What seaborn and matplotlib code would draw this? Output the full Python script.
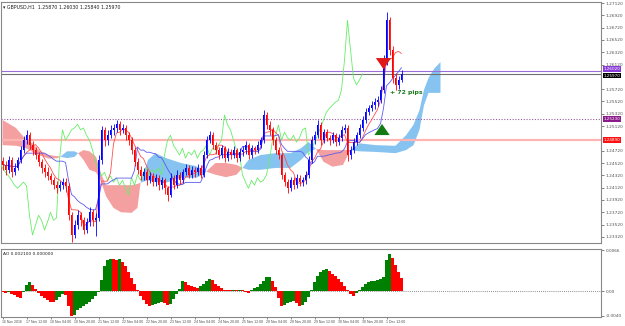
import numpy as np
import pandas as pd
import matplotlib
matplotlib.use("Agg")
import matplotlib.pyplot as plt
import seaborn as sns
from matplotlib.transforms import blended_transform_factory

# ---------------- data ----------------
first_open = 1.2455
closes = [
    1.2449, 1.2441, 1.2457, 1.2437, 1.2444, 1.2457, 1.2473, 1.2489, 1.2497, 1.2481,
    1.2473, 1.2465, 1.2454, 1.2444, 1.2437, 1.2431, 1.2424, 1.2416, 1.2411, 1.2416,
    1.2421, 1.2415, 1.2367, 1.2335, 1.2351, 1.2367, 1.2359, 1.2343, 1.2356, 1.2372,
    1.2359, 1.2363, 1.2457, 1.2506, 1.2489, 1.2497, 1.2506, 1.2509, 1.2515, 1.2506,
    1.2509, 1.2497, 1.2489, 1.2473, 1.2454, 1.2441, 1.2431, 1.2437, 1.2424, 1.2431,
    1.2421, 1.2428, 1.2416, 1.2424, 1.2411, 1.2400, 1.2428, 1.2416, 1.2433, 1.2424,
    1.2437, 1.2444, 1.2433, 1.2441, 1.2437, 1.2444, 1.2433, 1.2465, 1.2489, 1.2497,
    1.2481, 1.2473, 1.2465, 1.2476, 1.2460, 1.2470, 1.2465, 1.2473, 1.2460, 1.2470,
    1.2473, 1.2481, 1.2465, 1.2476, 1.2473, 1.2481, 1.2489, 1.2530, 1.2514, 1.2506,
    1.2489, 1.2473, 1.2465, 1.2433, 1.2421, 1.2411, 1.2424, 1.2416, 1.2428, 1.2421,
    1.2424, 1.2433, 1.2457, 1.2489, 1.2497, 1.2514, 1.2489, 1.2502, 1.2493, 1.2489,
    1.2497, 1.2486, 1.2493, 1.2506, 1.2509, 1.2465, 1.2473, 1.2486, 1.2497, 1.2509,
    1.2522, 1.2535, 1.2541, 1.2546, 1.2551, 1.2554, 1.2571, 1.2619, 1.2684, 1.2636,
    1.2590, 1.2579, 1.2587, 1.2597]
highs = [
    1.2462, 1.2455, 1.2463, 1.2462, 1.2452, 1.2462, 1.2480, 1.2496, 1.2506, 1.2502,
    1.2488, 1.2478, 1.2470, 1.2458, 1.2450, 1.2445, 1.2436, 1.2430, 1.2422, 1.2423,
    1.2428, 1.2427, 1.2420, 1.2372, 1.2360, 1.2375, 1.2372, 1.2365, 1.2362, 1.2380,
    1.2378, 1.2370, 1.2465, 1.2512, 1.2510, 1.2505, 1.2514, 1.2516, 1.2522, 1.2520,
    1.2515, 1.2513, 1.2502, 1.2494, 1.2478, 1.2460, 1.2447, 1.2444, 1.2442, 1.2438,
    1.2436, 1.2434, 1.2432, 1.2430, 1.2428, 1.2415, 1.2435, 1.2433, 1.2440, 1.2438,
    1.2443, 1.2450, 1.2448, 1.2447, 1.2446, 1.2450, 1.2449, 1.2472, 1.2496, 1.2504,
    1.2502, 1.2486, 1.2478, 1.2482, 1.2480, 1.2476, 1.2475, 1.2479, 1.2477, 1.2476,
    1.2479, 1.2487, 1.2485, 1.2482, 1.2480, 1.2487, 1.2495, 1.2538, 1.2535, 1.2520,
    1.2511, 1.2494, 1.2478, 1.2469, 1.2438, 1.2426, 1.2430, 1.2429, 1.2434, 1.2432,
    1.2430, 1.2439, 1.2463, 1.2496, 1.2504, 1.2522, 1.2518, 1.2508, 1.2507, 1.2498,
    1.2503, 1.2501, 1.2499, 1.2512, 1.2516, 1.2513, 1.2480, 1.2492, 1.2503, 1.2515,
    1.2528, 1.2541, 1.2547, 1.2552, 1.2557, 1.2561, 1.2577, 1.2627, 1.2697, 1.2690,
    1.2642, 1.2598, 1.2594, 1.2603]
lows = [
    1.2440, 1.2433, 1.2436, 1.2430, 1.2432, 1.2440, 1.2452, 1.2468, 1.2483, 1.2475,
    1.2465, 1.2458, 1.2447, 1.2436, 1.2430, 1.2424, 1.2418, 1.2410, 1.2404, 1.2406,
    1.2410, 1.2405, 1.2360, 1.2324, 1.2330, 1.2345, 1.2350, 1.2336, 1.2338, 1.2350,
    1.2350, 1.2333, 1.2358, 1.2450, 1.2480, 1.2482, 1.2492, 1.2498, 1.2503, 1.2498,
    1.2500, 1.2490, 1.2482, 1.2466, 1.2447, 1.2434, 1.2424, 1.2425, 1.2417, 1.2419,
    1.2414, 1.2415, 1.2408, 1.2410, 1.2402, 1.2391, 1.2396, 1.2409, 1.2412, 1.2418,
    1.2420, 1.2432, 1.2427, 1.2428, 1.2430, 1.2432, 1.2427, 1.2429, 1.2460, 1.2484,
    1.2475, 1.2467, 1.2458, 1.2460, 1.2454, 1.2455, 1.2459, 1.2460, 1.2454, 1.2455,
    1.2464, 1.2467, 1.2459, 1.2460, 1.2466, 1.2468, 1.2476, 1.2485, 1.2507, 1.2498,
    1.2482, 1.2466, 1.2458, 1.2426, 1.2414, 1.2404, 1.2406, 1.2409, 1.2411, 1.2414,
    1.2415, 1.2418, 1.2428, 1.2452, 1.2483, 1.2492, 1.2482, 1.2484, 1.2487, 1.2482,
    1.2484, 1.2480, 1.2481, 1.2488, 1.2500, 1.2455, 1.2458, 1.2468, 1.2481, 1.2492,
    1.2504, 1.2517, 1.2530, 1.2536, 1.2540, 1.2544, 1.2549, 1.2566, 1.2612, 1.2628,
    1.2582, 1.2570, 1.2572, 1.2584]
osc = [
    -0.0002, -0.0003, -0.0002, -0.0004, -0.0007, -0.0010, -0.0011, -0.0001, 0.0010, 0.0015,
    0.0010, 0.0003, -0.0003, -0.0008, -0.0012, -0.0015, -0.0017, -0.0018, -0.0014, -0.0009,
    -0.0004, -0.0006, -0.0025, -0.0040, -0.0038, -0.0030, -0.0027, -0.0024, -0.0021, -0.0017,
    -0.0013, -0.0008, -0.0002, 0.0018, 0.0040, 0.0050, 0.0052, 0.0052, 0.0051, 0.0052,
    0.0047, 0.0040, 0.0031, 0.0021, 0.0011, 0.0001, -0.0008, -0.0015, -0.0021, -0.0025,
    -0.0023, -0.0021, -0.0019, -0.0018, -0.0020, -0.0023, -0.0021, -0.0013, -0.0004, 0.0004,
    0.0016, 0.0014, 0.0010, 0.0008, 0.0007, 0.0005, 0.0008, 0.0012, 0.0016, 0.0019,
    0.0018, 0.0012, 0.0008, 0.0005, 0.0002, 0.0001, 0.0001, 0.0002, 0.0001, 0.0002,
    0.0001, -0.0001, -0.0003, 0.0002, 0.0005, 0.0007, 0.0011, 0.0016, 0.0022, 0.0023,
    0.0016, 0.0006, -0.0012, -0.0024, -0.0022, -0.0020, -0.0018, -0.0016, -0.0020, -0.0024,
    -0.0023, -0.0017, -0.0010, 0.0001, 0.0014, 0.0024, 0.0030, 0.0034, 0.0036, 0.0032,
    0.0028, 0.0024, 0.0019, 0.0014, 0.0008, 0.0002, -0.0004, -0.0008, -0.0003, 0.0002,
    0.0006, 0.0011, 0.0014, 0.0016, 0.0017, 0.0018, 0.0020, 0.0022, 0.0050, 0.0060,
    0.0054, 0.0042, 0.0030, 0.0021]

cloud_bar = [0, 4.5, 8, 10, 12, 15.5, 18.5, 19.5, 21.5, 24, 25.2, 27, 29, 31.2, 33,
             34.5, 37, 39.5, 43, 45, 46, 48.5, 51, 54.5, 59.5, 64.5, 67, 68.5, 71, 74.5,
             78, 80, 82, 86, 91, 96, 99.5, 102, 104.5, 107, 110, 113.5, 116, 119, 124.5,
             131, 134.5, 137, 139, 140.5, 142, 144, 146]
span_a = [1.2481, 1.2480, 1.2476, 1.2470, 1.2465, 1.2459, 1.2460, 1.2463, 1.2471, 1.2471,
          1.2468, 1.2457, 1.2441, 1.2437, 1.2420, 1.2398, 1.2379, 1.2372, 1.2371, 1.2379,
          1.2420, 1.2457, 1.2468, 1.2460, 1.2452, 1.2447, 1.2441, 1.2437, 1.2433, 1.2429,
          1.2433, 1.2444, 1.2457, 1.2465, 1.2468, 1.2468, 1.2476, 1.2486, 1.2475, 1.2454,
          1.2446, 1.2449, 1.2473, 1.2484, 1.2481, 1.2480, 1.2497, 1.2514, 1.2538, 1.2571,
          1.2590, 1.2606, 1.2616]
span_b = [1.2522, 1.2509, 1.2489, 1.2484, 1.2473, 1.2465, 1.2463, 1.2462, 1.2460, 1.2462,
          1.2468, 1.2473, 1.2471, 1.2462, 1.2433, 1.2416, 1.2416, 1.2416, 1.2416, 1.2418,
          1.2420, 1.2424, 1.2421, 1.2420, 1.2428, 1.2428, 1.2433, 1.2441, 1.2452, 1.2452,
          1.2449, 1.2444, 1.2441, 1.2441, 1.2444, 1.2444, 1.2457, 1.2470, 1.2475, 1.2473,
          1.2473, 1.2473, 1.2473, 1.2471, 1.2470, 1.2468, 1.2473, 1.2481, 1.2506, 1.2546,
          1.2566, 1.2566, 1.2566]

price_ticks = [1.27120, 1.26920, 1.26720, 1.26520, 1.26320, 1.26120, 1.25720,
               1.25520, 1.25320, 1.25120, 1.24720, 1.24520, 1.24320, 1.24120,
               1.23920, 1.23720, 1.23520, 1.23320]
time_tick_bars = [0, 8, 16, 24, 32, 40, 48, 56, 64, 72, 80, 88, 96, 104, 112, 120, 128]
time_labels = ["16 Nov 2016", "17 Nov 12:00", "18 Nov 04:00", "18 Nov 20:00", "21 Nov 12:00",
               "22 Nov 04:00", "22 Nov 20:00", "23 Nov 12:00", "24 Nov 04:00", "24 Nov 20:00",
               "25 Nov 12:00", "28 Nov 04:00", "28 Nov 20:00", "29 Nov 12:00", "30 Nov 04:00",
               "30 Nov 20:00", "1 Dec 12:00"]
level_prices = [1.2602, 1.2597, 1.2523, 1.2489]
level_labels = ["1.26020", "1.25970", "1.25230", "1.24890"]
osc_ticks = [0.0066, 0.0, -0.0040]
osc_tick_labels = ["0.0066", "0.00", "-0.0040"]

# ---------------- style ----------------
sns.set_style("white")
plt.rcParams['font.family'] = ['DejaVu Sans']

W, H = 625, 326
fig = plt.figure(figsize=(W / 100, H / 100), dpi=100)
ax = fig.add_axes([1 / W, (H - 243) / H, 600 / W, 241 / H])
axo = fig.add_axes([1 / W, (H - 317) / H, 600 / W, 68 / H])

df = pd.DataFrame({"close": closes, "high": highs, "low": lows})
df["open"] = df["close"].shift(1).fillna(first_open)
df["bar"] = np.arange(len(df))
tenkan = (df["high"].rolling(5, min_periods=1).max() + df["low"].rolling(5, min_periods=1).min()) / 2
kijun = (df["high"].rolling(13, min_periods=1).max() + df["low"].rolling(13, min_periods=1).min()) / 2

# cloud
cb = np.array(cloud_bar); sa = np.array(span_a); sb = np.array(span_b)
ax.fill_between(cb, sa, sb, where=sa >= sb, interpolate=True, color="#86C3F0", lw=0, zorder=1)
ax.fill_between(cb, sa, sb, where=sa <= sb, interpolate=True, color="#F5A0A0", lw=0, zorder=1)

# horizontal levels
ax.axhline(level_prices[0], color="#9A6CD8", lw=0.8, zorder=2)
ax.axhline(level_prices[1], color="#707070", lw=0.8, zorder=2)
ax.axhline(level_prices[2], color="#9A5AA0", lw=0.8, ls=(0, (1, 1.5)), zorder=2)
ax.axhline(level_prices[3], color="#FFB4B4", lw=1.6, zorder=2)

# ichimoku lines
sns.lineplot(x=df["bar"] - 13, y=df["close"], ax=ax, color="#66EE66", lw=0.6, zorder=3)
sns.lineplot(x=df["bar"], y=tenkan, ax=ax, color="#FF5050", lw=0.6, zorder=3)
sns.lineplot(x=df["bar"], y=kijun, ax=ax, color="#5A5AF0", lw=0.6, zorder=3)

# candles
o = df["open"].values; c = df["close"].values
up = c >= o
cols = np.where(up, "#0000FF", "#FF0000")
ax.vlines(df["bar"], df["low"], df["high"], colors=cols, lw=0.6, zorder=4)
body = np.maximum(np.abs(c - o), 0.00008)
ax.bar(df["bar"], body, bottom=np.minimum(o, c), width=0.62, color=cols, lw=0, zorder=5)

# annotations
ax.annotate("", xy=(127, 1.2600), xytext=(127, 1.2624),
            arrowprops=dict(arrowstyle="simple,head_width=1.1,head_length=0.8,tail_width=0.4",
                            color="#E01818", lw=0), zorder=6)
ax.annotate("", xy=(126.5, 1.2520), xytext=(126.5, 1.2497),
            arrowprops=dict(arrowstyle="simple,head_width=1.1,head_length=0.8,tail_width=0.4",
                            color="#127A12", lw=0), zorder=6)
ax.text(129, 1.2566, "+ 72 pips", color="#1C7A1C", fontsize=4.4, fontweight="bold",
        va="center", ha="left", zorder=6)

ax.set_xlim(-0.5, 199.5)
ax.set_ylim(1.23220, 1.27137)
ax.set_yticks(price_ticks)
ax.set_yticklabels([f"{v:.5f}" for v in price_ticks])
ax.yaxis.tick_right()
ax.tick_params(axis="y", labelsize=3.1, length=2, width=0.5, pad=1.5, colors="#505050", right=True)
ax.set_xticks([])
ax.set_xlabel(""); ax.set_ylabel("")
for s in ax.spines.values():
    s.set_color("#888888"); s.set_linewidth(0.8)

trans = blended_transform_factory(ax.transAxes, ax.transData)
box_cols = ["#8A3CD8", "#000000", "#8B1A8B", "#FF1010"]
box_offsets = [0.0003, -0.0003, 0.0, 0.0]
for p, lab, bc, off in zip(level_prices, level_labels, box_cols, box_offsets):
    ax.text(1.004, p + off, lab, transform=trans, fontsize=3.0, color="white", va="center", ha="left",
            bbox=dict(boxstyle="square,pad=0.2", fc=bc, ec="none"), zorder=10, clip_on=False)

ax.text(0.004, 0.99, "\u25BE GBPUSD,H1  1.25870 1.26030 1.25840 1.25970", transform=ax.transAxes,
        fontsize=3.4, va="top", ha="left", color="#202020")

# oscillator
ov = np.array(osc)
prev = np.r_[ov[0], ov[:-1]]
ocols = np.where(ov > prev, "#008000", "#FF0000")
axo.bar(np.arange(len(ov)), ov, width=1.0, color=ocols, lw=0, zorder=2)
axo.axhline(0, color="#666666", lw=0.6, ls=(0, (1, 1.5)), zorder=1)
axo.set_xlim(-0.5, 199.5)
axo.set_ylim(-0.0042, 0.0068)
axo.set_yticks(osc_ticks)
axo.set_yticklabels(osc_tick_labels)
axo.yaxis.tick_right()
axo.tick_params(axis="y", labelsize=3.1, length=2, width=0.5, pad=1.5, colors="#505050", right=True)
axo.set_xticks(time_tick_bars)
axo.set_xticklabels(time_labels, family=["Liberation Sans", "DejaVu Sans"], fontsize=2.5)
axo.tick_params(axis="x", length=1.5, width=0.5, pad=0.8, colors="#505050", bottom=True)
for lab in axo.get_xticklabels():
    lab.set_ha("left")
for s in axo.spines.values():
    s.set_color("#888888"); s.set_linewidth(0.8)
axo.text(0.004, 0.96, "AO 0.002100 0.000000", transform=axo.transAxes, fontsize=3.2,
         va="top", ha="left", color="#202020")

fig.savefig("out.png", dpi=100)
